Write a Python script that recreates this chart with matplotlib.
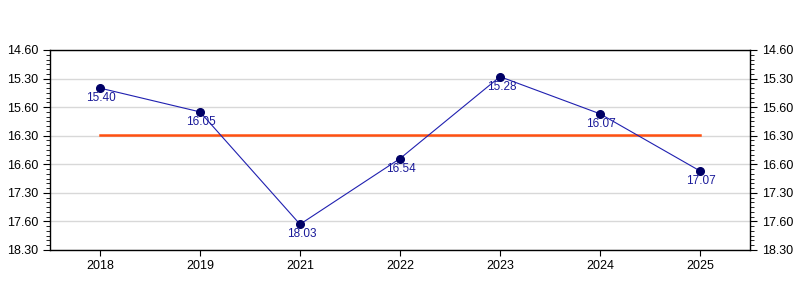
import matplotlib
matplotlib.use("Agg")
from matplotlib import pyplot as plt
from matplotlib.ticker import FixedLocator, MultipleLocator

plt.rcParams['font.family'] = ['Liberation Sans', 'DejaVu Sans']

years = ['2018', '2019', '2021', '2022', '2023', '2024', '2025']
# times as shown, minutes.seconds
times = ['15.40', '16.05', '18.03', '16.54', '15.28', '16.07', '17.07']
# average time in minutes
avg_minutes = 16.49

def to_minutes(s):
    m, sec = s.split('.')
    return int(m) + int(sec) / 60.0

def fmt(v):
    # label style of the original: whole minute minus one, seconds up to 60
    m = int(round(v * 2)) / 2.0
    if m == int(m):
        return '%d.60' % (int(m) - 1)
    return '%d.30' % int(m)

vals = [to_minutes(t) for t in times]
x = list(range(len(years)))

fig = plt.figure(figsize=(8, 3), dpi=100)
ax = fig.add_axes([0.0625, 1 - 250 / 300, 0.875, 200 / 300])

ax.plot(x, vals, color='#2020b0', lw=0.8, zorder=3)
ax.plot(x, vals, 'o', color='#000066', ms=5.5, zorder=4)
ax.plot([x[0], x[-1]], [avg_minutes, avg_minutes], color='#ff5010', lw=1.8, zorder=2)

for xi, v, t in zip(x, vals, times):
    ax.annotate(t, (xi, v), xytext=(1, -3), textcoords='offset points',
                ha='center', va='top', fontsize=8.5, color='#1a1a99', zorder=5)

ax.set_xlim(-0.5, len(years) - 0.5)
ax.set_ylim(18.5, 15.0)
ax.set_xticks(x)
ax.set_xticklabels(years)

yt = [15.0 + 0.5 * i for i in range(8)]
ax.yaxis.set_major_locator(FixedLocator(yt))
ax.set_yticklabels([fmt(v) for v in yt])
ax.yaxis.set_minor_locator(MultipleLocator(1 / 12.0))
ax.tick_params(axis='y', which='both', left=True, right=True,
               labelleft=True, labelright=True, direction='out')
ax.tick_params(axis='y', which='major', length=5)
ax.tick_params(axis='y', which='minor', length=3)
ax.tick_params(axis='x', length=4)
ax.tick_params(labelsize=9)
ax.grid(axis='y', color='#d8d8d8', lw=1)
ax.set_axisbelow(True)
for s in ax.spines.values():
    s.set_linewidth(1)

fig.savefig('out.png', dpi=100)
